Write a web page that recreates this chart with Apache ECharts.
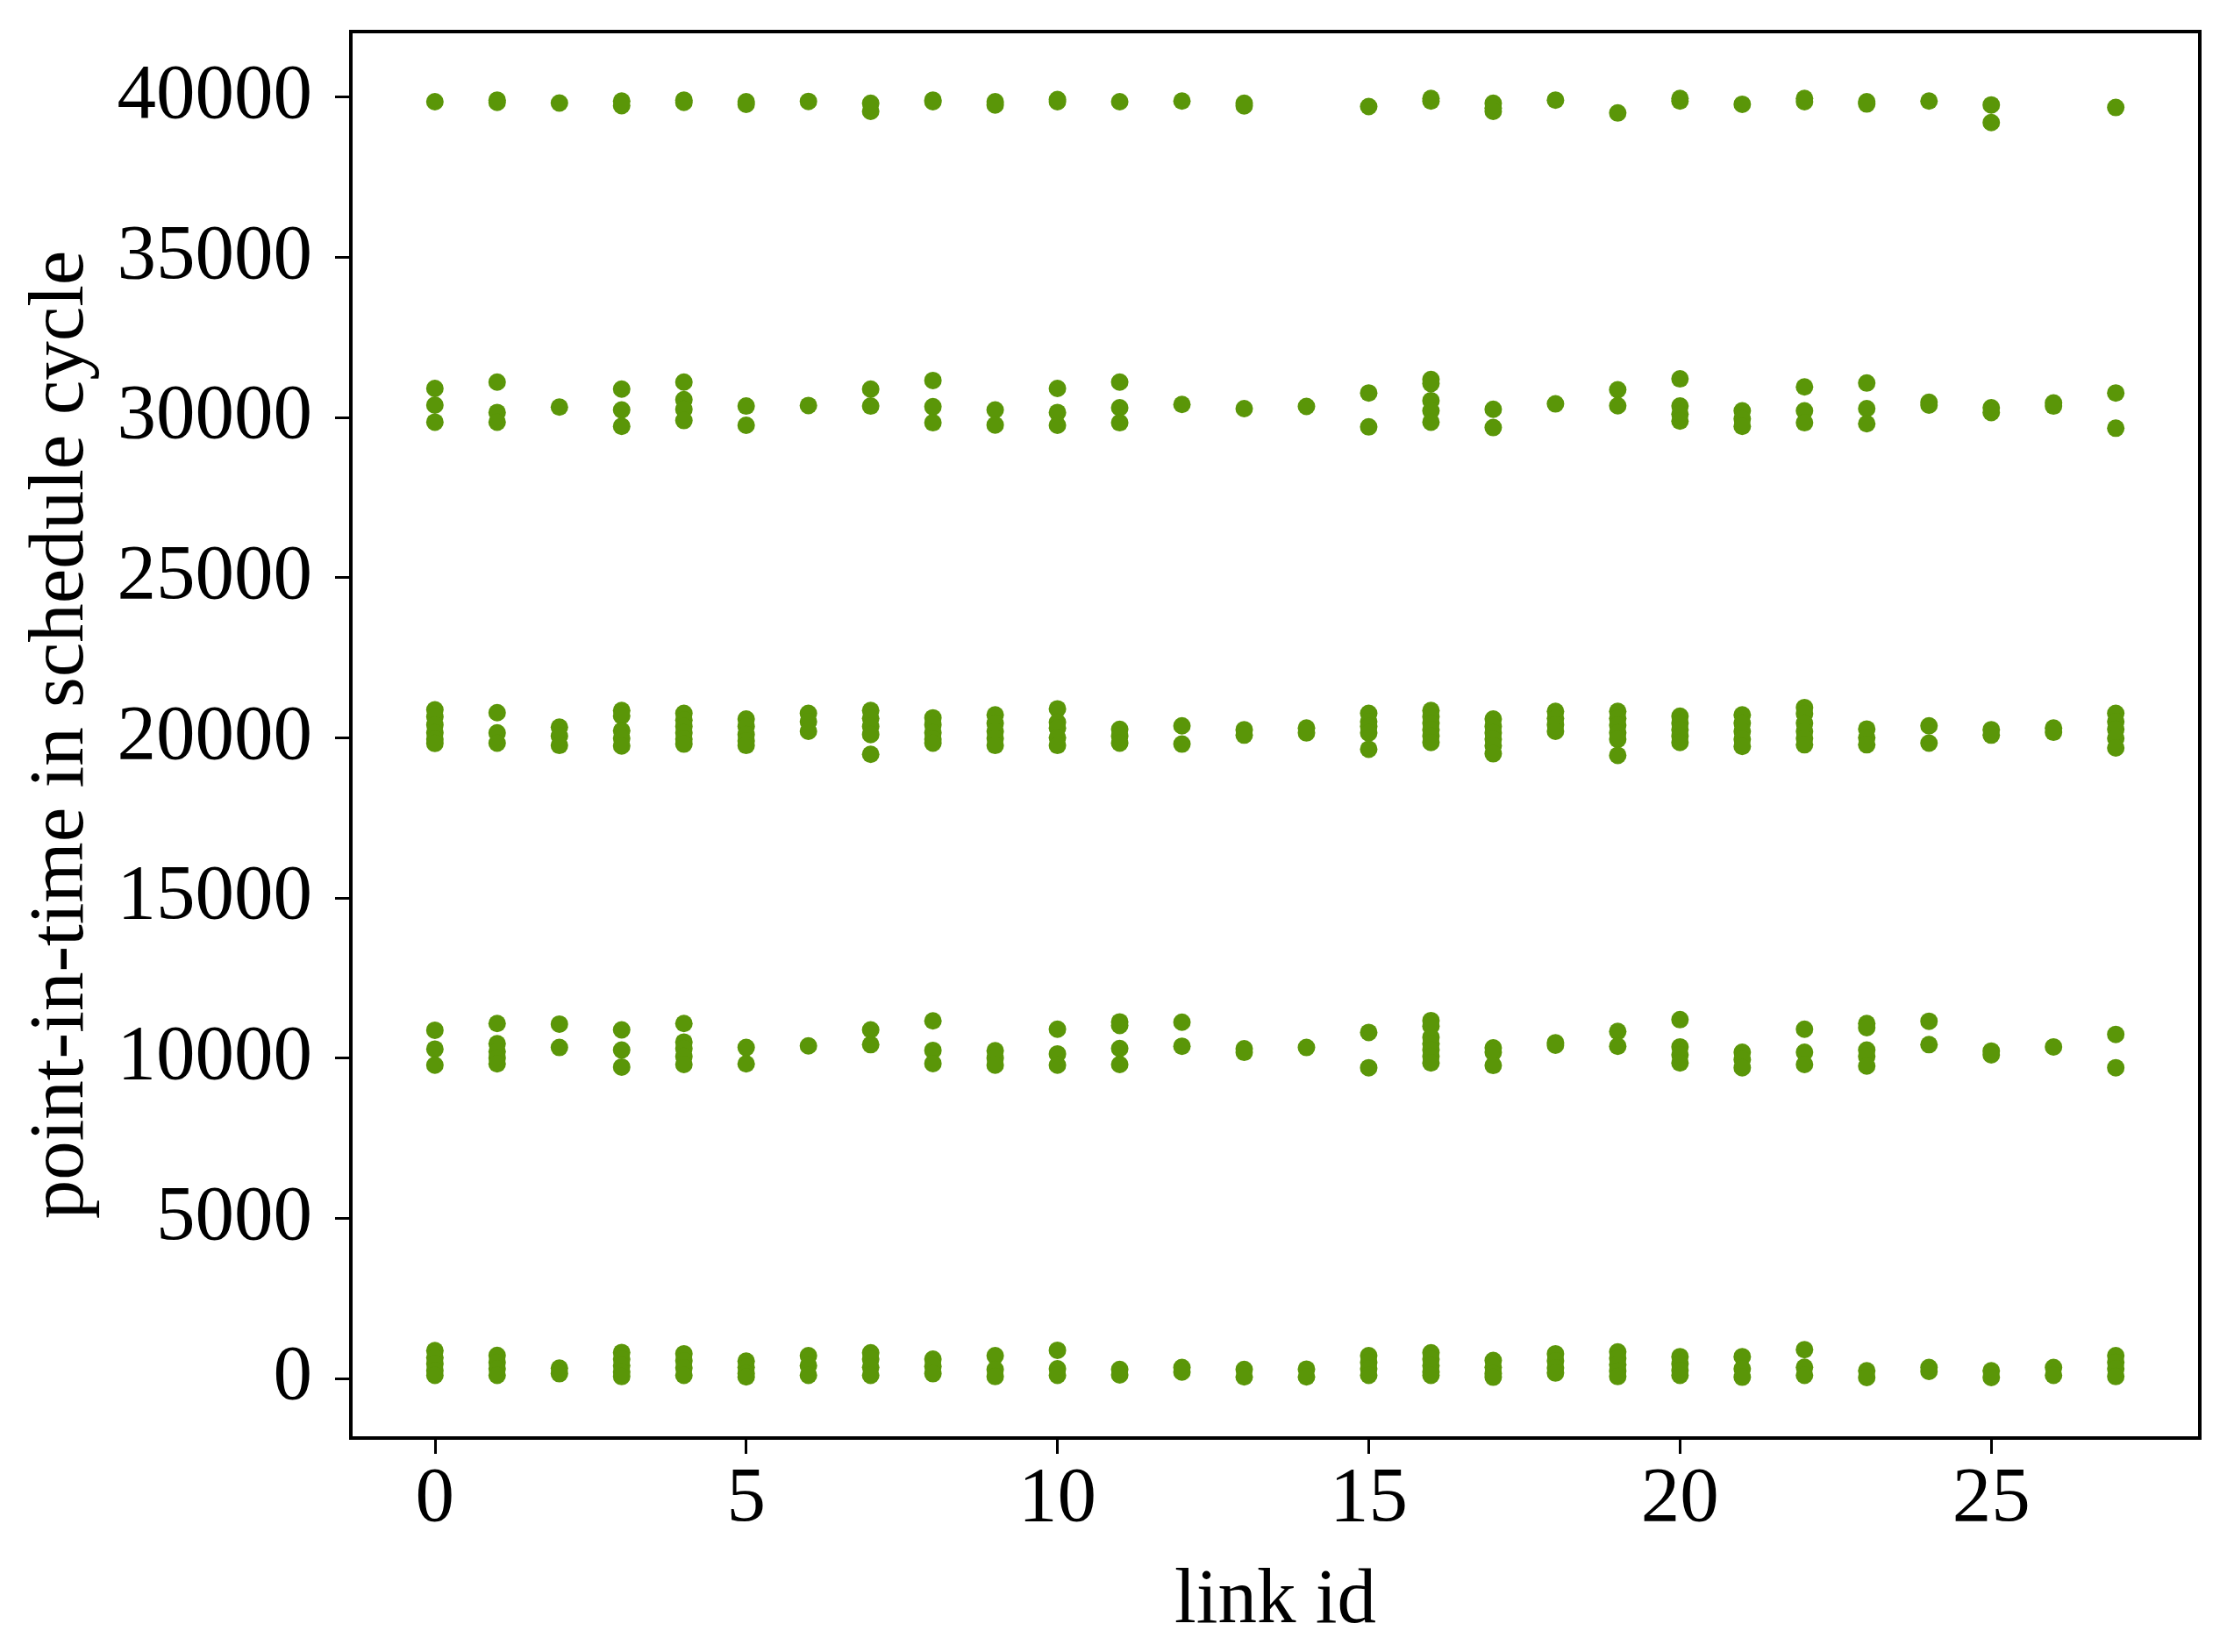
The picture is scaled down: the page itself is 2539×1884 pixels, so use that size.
<!DOCTYPE html>
<html>
<head>
<meta charset="utf-8">
<script src="https://cdn.jsdelivr.net/npm/echarts@6/dist/echarts.min.js"></script>
<style>
html,body{margin:0;padding:0;background:#fff;}
#chart{width:2539px;height:1884px;}
</style>
</head>
<body>
<div id="chart"></div>
<script>
// link ids 0..27; each band: list of y values per link id
const linkIds = [0,1,2,3,4,5,6,7,8,9,10,11,12,13,14,15,16,17,18,19,20,21,22,23,24,25,26,27];

const band0 = [
  [870,650,450,250,100],[720,500,300,100],[320,150],[810,600,400,200,60],[770,550,330,100],
  [540,350,150,50],[710,400,100],[800,600,350,100],[600,380,150],[710,280,60],
  [880,300,100],[280,110],[340,200],[280,50],[290,50],
  [710,500,300,100],[800,600,400,200,100],[560,350,150,40],[770,550,330,170],[830,630,430,230,60],
  [680,450,250,100],[680,300,40],[900,350,100],[240,30],[340,220],
  [240,30],[340,100],[710,500,300,60]
];

const band10k = [
  [10870,10280,9780],[11080,10450,10200,10000,9820],[11060,10330],[10880,10250,9720],[11080,10500,10300,10050,9800],
  [10330,9820],[10380],[10880,10420],[11160,10240,9830],[10230,10000,9780],
  [10900,10130,9780],[11130,11020,10300,9800],[11120,10370],[10290,10180],[10330],
  [10800,9700],[11170,11000,10650,10450,10250,10050,9850],[10320,10180,9770],[10480,10400],[10830,10370],
  [11200,10350,10100,9850],[10180,9950,9700],[10900,10180,9800],[11080,10950,10250,10050,9750],[11150,10420],
  [10220,10100],[10350],[10740,9700]
];

const band20k = [
  [20870,20650,20400,20150,19950,19820],[20780,20150,19830],[20330,20050,19760],[20850,20680,20220,19980,19740],[20760,20550,20350,20150,19950,19800],
  [20580,20350,20100,19900,19760],[20760,20500,20200],[20850,20600,20350,20100,19480],[20620,20400,20150,19950,19830],[20710,20450,20200,19980,19760],
  [20900,20480,20300,20000,19760],[20260,20050,19830],[20370,19800],[20250,20080],[20300,20150],
  [20760,20500,20350,20150,19640],[20850,20650,20450,20250,20050,19850],[20580,20350,20150,19950,19750,19500],[20820,20600,20400,20200],[20820,20600,20390,20150,19950,19450],
  [20670,20450,20250,20050,19850],[20710,20450,20200,19950,19730],[20940,20750,20450,20200,19980,19780],[20270,20000,19780],[20370,19830],
  [20250,20080],[20300,20170],[20760,20500,20260,19980,19680]
];

const band30k = [
  [30900,30380,29850],[31100,30150,29850],[30320],[30880,30230,29720],[31100,30550,30250,29900],
  [30350,29750],[30370],[30880,30350],[31150,30330,29830],[30230,29760],
  [30900,30150,29750],[31100,30300,29830],[30400],[30270],[30340],
  [30760,29700],[31180,31050,30520,30200,29850],[30250,29680],[30420],[30860,30360],
  [31200,30350,30100,29880],[30200,29950,29720],[30950,30200,29830],[31070,30270,29800],[30470,30380],
  [30300,30150],[30450,30350],[30760,29660]
];

const band40k = [
  [39850],[39900,39830],[39810],[39870,39730],[39900,39830],
  [39850,39770],[39860],[39800,39550],[39900,39850],[39850,39750],
  [39920,39850],[39850],[39870],[39800,39720],[],
  [39700],[39950,39870],[39800,39650,39550],[39900],[39500],
  [39950,39870],[39770],[39950,39850],[39850,39780],[39870],
  [39750,39200],[],[39670]
];

const xTicks = [0,5,10,15,20,25];
const yTicks = [0,5000,10000,15000,20000,25000,30000,35000,40000];

const points = [];
[band0, band10k, band20k, band30k, band40k].forEach(band => {
  band.forEach((vals, i) => {
    vals.forEach(v => points.push([linkIds[i], v]));
  });
});

const FONT = '"Liberation Serif", "Times New Roman", serif';
const FS = 89;
const chart = echarts.init(document.getElementById('chart'), null, {renderer: 'canvas'});
chart.setOption({
  animation: false,
  backgroundColor: '#ffffff',
  grid: {
    left: 400, right: 31, top: 36, bottom: 244,
    show: true, borderColor: '#000', borderWidth: 4, backgroundColor: 'transparent'
  },
  xAxis: {
    type: 'value',
    min: -1.35, max: 28.35,
    name: 'link id',
    nameLocation: 'middle',
    nameGap: 142,
    nameTextStyle: {fontFamily: FONT, fontSize: FS, color: '#000'},
    axisLine: {show: true, onZero: false, lineStyle: {color: '#000', width: 3}},
    axisTick: {show: true, inside: false, length: 18, lineStyle: {color: '#000', width: 3}, customValues: xTicks},
    axisLabel: {fontFamily: FONT, fontSize: FS, color: '#000', margin: 26, customValues: xTicks,
      formatter: v => String(v)},
    splitLine: {show: false}
  },
  yAxis: {
    type: 'value',
    min: -1860, max: 42040,
    name: 'point-in-time in schedule cycle',
    nameLocation: 'middle',
    nameGap: 285,
    nameTextStyle: {fontFamily: FONT, fontSize: FS, color: '#000'},
    axisLine: {show: true, onZero: false, lineStyle: {color: '#000', width: 3}},
    axisTick: {show: true, inside: false, length: 18, lineStyle: {color: '#000', width: 3}, customValues: yTicks},
    axisLabel: {fontFamily: FONT, fontSize: FS, color: '#000', margin: 44, customValues: yTicks,
      formatter: v => String(v)},
    splitLine: {show: false}
  },
  series: [{
    type: 'scatter',
    data: points,
    symbol: 'circle',
    symbolSize: 20,
    itemStyle: {color: '#5a9608', opacity: 1},
    silent: true
  }]
});
</script>
</body>
</html>
